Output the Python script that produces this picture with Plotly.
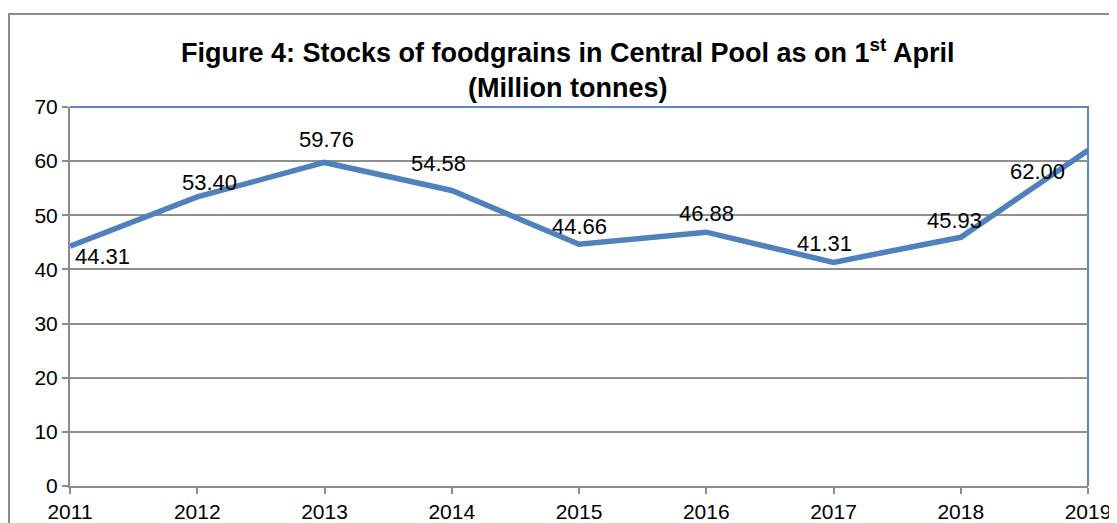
import plotly.graph_objects as go

years = [2011, 2012, 2013, 2014, 2015, 2016, 2017, 2018, 2019]
stocks = [44.31, 53.40, 59.76, 54.58, 44.66, 46.88, 41.31, 45.93, 62.00]
label_texts = ["44.31", "53.40", "59.76", "54.58", "44.66", "46.88", "41.31", "45.93", "62.00"]
y_ticks = [0, 10, 20, 30, 40, 50, 60, 70]

# label offsets in pixels (style)
label_dx = [32, 12, 2, -13, 0, 0, -9, -6, -51]
label_dy = [-10, 14, 23, 27, 18, 19, 19, 17, -21]

OFF = 8  # page body margin
W, H = 1117 - OFF, 523 - OFF
L, T = 70 - OFF, 107 - OFF
R = W - (1088 - OFF)
B = H - (486 - OFF)
pw, ph = W - L - R, H - T - B

def px_x(p):  # p in reference pixels
    return (p - OFF - L) / pw

def px_y(p):
    return (H - B - (p - OFF)) / ph

FONT = "Liberation Sans, Arial, sans-serif"
LINE = "#4F81BD"

fig = go.Figure()
fig.add_trace(go.Scatter(x=years, y=stocks, mode="lines",
                         line=dict(color=LINE, width=5.5), hoverinfo="x+y",
                         showlegend=False, cliponaxis=False))

for x, y, t, dx, dy in zip(years, stocks, label_texts, label_dx, label_dy):
    fig.add_annotation(x=x, y=y, text=t, showarrow=False, xshift=dx, yshift=dy,
                       font=dict(family=FONT, size=22, color="black"),
                       xanchor="center", yanchor="middle")

fig.add_annotation(xref="paper", yref="paper", x=px_x(567), y=px_y(68),
                   text="<b>Figure 4: Stocks of foodgrains in Central Pool as on 1<sup>st</sup> April</b><br><b>(Million tonnes)</b>",
                   showarrow=False, xanchor="center", yanchor="middle",
                   font=dict(family=FONT, size=27, color="black"))

# outer chart border
fig.add_shape(type="rect", xref="paper", yref="paper",
              x0=px_x(9), x1=px_x(1117 + 20), y0=px_y(523 + 20), y1=px_y(14),
              line=dict(color="#8c8c8c", width=2), fillcolor="rgba(0,0,0,0)", layer="below")
# plot area border (top and right)
fig.add_shape(type="path", xref="paper", yref="paper", path="M 0 1 L 1 1 L 1 0",
              line=dict(color="#5b87c0", width=2), layer="below")

fig.update_layout(
    width=W, height=H, margin=dict(l=L, r=R, t=T, b=B, autoexpand=False),
    paper_bgcolor="white", plot_bgcolor="white",
    font=dict(family=FONT, size=21, color="black"),
    xaxis=dict(range=[2011, 2019], tickmode="array", tickvals=years,
               ticktext=[str(y) for y in years], showgrid=False,
               showline=True, linecolor="#8c8c8c", linewidth=2,
               ticks="outside", ticklen=6, tickcolor="#8c8c8c", tickwidth=2,
               zeroline=False, tickfont=dict(size=21), fixedrange=True,
               automargin=False),
    yaxis=dict(range=[0, 70], tickmode="array", tickvals=y_ticks,
               showgrid=True, gridcolor="#8f8f8f", gridwidth=1.5,
               showline=True, linecolor="#8c8c8c", linewidth=2,
               ticks="outside", ticklen=6, tickcolor="#8c8c8c", tickwidth=2,
               zeroline=False, tickfont=dict(size=21), fixedrange=True,
               automargin=False),
)

fig.write_html("out.html")
